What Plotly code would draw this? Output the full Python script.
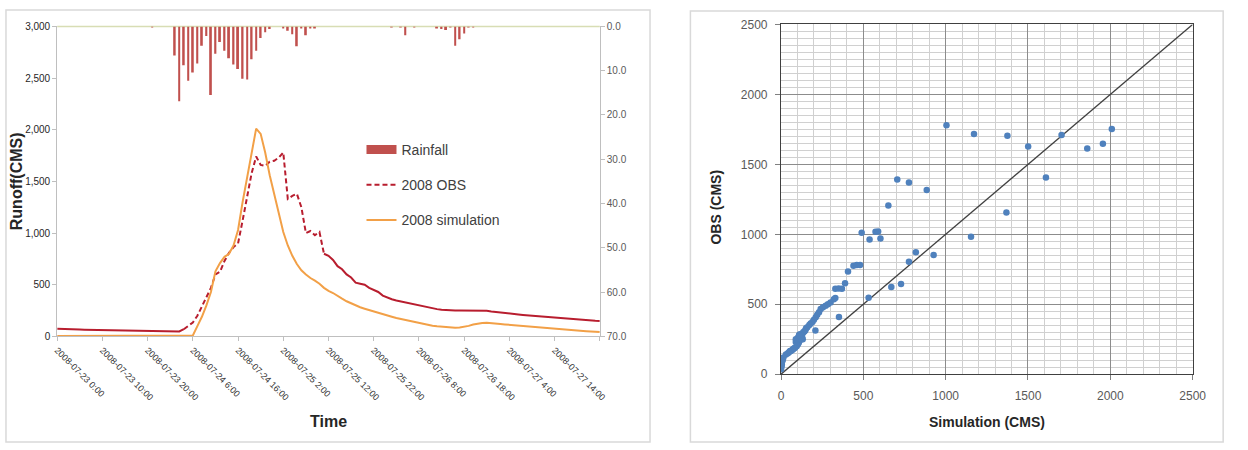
import plotly.graph_objects as go

# ---------------- data: hydrograph (hourly, hour 0 = 2008-07-23 0:00) ----------------
hours = list(range(121))
obs_cms = [75, 72, 70, 68, 67, 66, 65, 64, 63, 62,
           60, 60, 59, 58, 58, 57, 55, 54, 53, 52,
           51, 50, 49, 48, 47, 46, 45, 48, 70, 100,
           135, 200, 290, 370, 470, 600, 625, 730, 810, 865,
           900, 1120, 1370, 1580, 1740, 1660, 1650, 1690, 1700, 1730,
           1780, 1330, 1360, 1380, 1250, 1000, 1020, 980, 1010, 800,
           780, 740, 680, 650, 600, 570, 520, 510, 500, 470,
           450, 430, 395, 375, 360, 348, 338, 328, 318, 308,
           298, 290, 280, 270, 264, 258, 254, 250, 250, 250,
           250, 250, 250, 250, 250, 248, 242, 236, 230, 225,
           220, 216, 212, 208, 204, 200, 196, 192, 188, 184,
           180, 177, 173, 170, 166, 163, 160, 157, 154, 151, 150]
sim_cms = [3, 3, 3, 3, 3, 3, 3, 3, 3, 3,
           3, 3, 3, 3, 3, 3, 3, 3, 3, 3,
           3, 3, 3, 3, 3, 3, 3, 3, 3, 3,
           10, 100, 190, 300, 430, 630, 710, 770, 800, 880,
           1030, 1300, 1530, 1790, 2010, 1960, 1780, 1560, 1380, 1170,
           1010, 880, 780, 700, 640, 600, 565, 540, 510, 470,
           440, 420, 390, 365, 340, 318, 300, 282, 268, 254,
           240, 225, 212, 200, 190, 178, 168, 158, 148, 138,
           128, 120, 112, 104, 98, 93, 89, 86, 84, 86,
           92, 102, 115, 125, 130, 132, 130, 126, 120, 116,
           112, 108, 104, 100, 96, 92, 88, 85, 82, 78,
           75, 72, 69, 66, 62, 58, 55, 51, 48, 45, 42]

rain_hours = [21, 26, 27, 28, 29, 30, 31, 32, 33, 34, 35, 36, 37, 38, 39, 40, 41, 42,
              43, 44, 45, 46, 47, 50, 51, 52, 53, 54, 55, 56, 57, 74, 76, 77, 79,
              84, 85, 86, 87, 88, 89, 90, 91, 92]
rain_mm = [0.2, 6.6, 16.9, 8.8, 12.3, 10.4, 8.4, 4.4, 2.2, 15.5, 6.2, 3.5, 5.5, 7.2,
           8.6, 9.6, 11.8, 12.0, 7.4, 5.5, 2.6, 1.3, 0.6, 0.3, 1.0, 1.8, 4.5, 0.4,
           2.0, 0.3, 0.3, 0.2, 0.2, 2.0, 0.2, 0.4, 0.6, 0.8, 0.2, 4.4, 2.9, 1.6, 0.2, 0.2]

time_tick_hours = [0, 10, 20, 30, 40, 50, 60, 70, 80, 90, 100, 110, 120]
time_tick_labels = ["2008-07-23 0:00", "2008-07-23 10:00", "2008-07-23 20:00",
                    "2008-07-24 6:00", "2008-07-24 16:00", "2008-07-25 2:00",
                    "2008-07-25 12:00", "2008-07-25 22:00", "2008-07-26 8:00",
                    "2008-07-26 18:00", "2008-07-27 4:00", "2008-07-27 14:00", ""]

# ---------------- data: scatter OBS vs simulation ----------------
scatter_sim = [0, 2, 3, 5, 2, 6, 10, 15, 30, 42, 50, 55, 60, 70, 72, 80, 85, 95, 102, 108,
               112, 118, 122, 90, 95, 100, 105, 110, 115, 130, 135, 142, 148, 152, 160, 172,
               180, 191, 200, 211, 220, 231, 241, 255, 271, 285, 301, 321, 330,
               90, 100, 115, 125, 132, 128, 120, 110,
               209, 352, 330, 350, 370, 389, 407, 440, 460, 480, 532,
               490, 538, 574, 590, 604, 670, 729, 777, 819, 927,
               652, 706, 777, 885, 1005, 1154, 1172, 1369, 1375, 1501, 1609,
               1704, 1860, 1955, 2009]
scatter_obs = [35, 50, 60, 70, 80, 90, 100, 120, 140, 150, 158, 165, 166, 175, 178, 185, 190, 200, 212, 225,
               240, 250, 262, 230, 245, 255, 265, 275, 285, 290, 300, 305, 315, 328, 335, 351,
               362, 374, 390, 408, 425, 443, 466, 478, 489, 500, 512, 535, 545,
               250, 250, 250, 250, 250, 265, 270, 280,
               312, 409, 610, 612, 610, 651, 734, 776, 780, 780, 547,
               1011, 963, 1018, 1020, 970, 623, 644, 803, 872, 852,
               1205, 1392, 1371, 1316, 1780, 983, 1717, 1156, 1704, 1627, 1406,
               1710, 1614, 1648, 1752]
line_1to1 = [0, 2500]

W, H = 1248, 450
def px(x):
    return x / W
def py(y):
    return 1 - y / H

OBS_COLOR = "#B81D2E"
SIM_COLOR = "#F2A047"
RAIN_COLOR = "#C0504D"

fig = go.Figure()

# rainfall bars (reversed secondary axis)
fig.add_trace(go.Bar(x=rain_hours, y=rain_mm, yaxis="y3", xaxis="x", width=0.4,
                     marker=dict(color=RAIN_COLOR, line=dict(width=0)),
                     name="Rainfall", legendgroup="g1", showlegend=False))
# legend swatch for the rainfall (wide bar like the original legend)
fig.add_trace(go.Scatter(x=[None], y=[None], mode="lines", name="Rainfall",
                         line=dict(color=RAIN_COLOR, width=9),
                         legendgroup="g1", legendrank=1))

# observed: solid baseline, dashed event, solid recession
fig.add_trace(go.Scatter(x=hours[0:29], y=obs_cms[0:29], mode="lines",
                         line=dict(color=OBS_COLOR, width=2), showlegend=False,
                         legendgroup="g2", hoverinfo="skip"))
fig.add_trace(go.Scatter(x=hours[28:60], y=obs_cms[28:60], mode="lines",
                         line=dict(color=OBS_COLOR, width=2, dash="5px,3px"),
                         name="2008 OBS", legendgroup="g2", legendrank=2))
fig.add_trace(go.Scatter(x=hours[59:], y=obs_cms[59:], mode="lines",
                         line=dict(color=OBS_COLOR, width=2), showlegend=False,
                         legendgroup="g2", hoverinfo="skip"))
fig.add_trace(go.Scatter(x=hours, y=sim_cms, mode="lines",
                         line=dict(color=SIM_COLOR, width=2),
                         name="2008 simulation", legendgroup="g3", legendrank=3))

# scatter panel
fig.add_trace(go.Scatter(x=line_1to1, y=line_1to1, mode="lines", xaxis="x2", yaxis="y2",
                         line=dict(color="#404040", width=1.3), showlegend=False))
fig.add_trace(go.Scatter(x=scatter_sim, y=scatter_obs, mode="markers", xaxis="x2", yaxis="y2",
                         marker=dict(color="#4F81BD", size=6.5), showlegend=False))

FONT = "Liberation Sans, Arial, sans-serif"
light_axis = "#BFBFBF"

fig.update_layout(
    width=W, height=H,
    margin=dict(l=0, r=0, t=0, b=0),
    paper_bgcolor="white", plot_bgcolor="white",
    font=dict(family=FONT, color="#333333"),
    barmode="overlay",
    xaxis=dict(domain=[px(53), px(604)], range=[0, 120], tickmode="array",
               tickvals=time_tick_hours, ticktext=time_tick_labels, tickangle=45,
               ticks="outside", ticklen=4, tickcolor=light_axis,
               showline=True, linecolor=light_axis, linewidth=1,
               showgrid=False, zeroline=False,
               tickfont=dict(size=9, color="#333333"), anchor="y"),
    yaxis=dict(domain=[py(340), py(20)], range=[0, 3000], dtick=500, tickformat=",",
               ticks="outside", ticklen=4, tickcolor=light_axis,
               showline=True, linecolor=light_axis, showgrid=False, zeroline=False,
               tickfont=dict(size=10, color="#262626"), anchor="x"),
    yaxis3=dict(overlaying="y", side="right", anchor="x", range=[70, 0], dtick=10,
                tickformat=".1f", ticks="outside", ticklen=4, tickcolor=light_axis,
                showline=True, linecolor=light_axis, showgrid=False, zeroline=False,
                tickfont=dict(size=10, color="#595959")),
    xaxis2=dict(domain=[px(788), px(1206)], range=[0, 2500], dtick=500, anchor="y2",
                showgrid=True, gridcolor="#8C8C8C", gridwidth=1,
                minor=dict(dtick=100, showgrid=True, gridcolor="#D0D0D0", gridwidth=1),
                showline=True, linecolor="#404040", linewidth=1.2, mirror=True,
                ticks="outside", ticklen=5, tickcolor="#808080", zeroline=False,
                tickfont=dict(size=12, color="#595959"), ticklabelstandoff=5),
    yaxis2=dict(domain=[py(379), py(18)], range=[0, 2500], dtick=500, anchor="x2",
                showgrid=True, gridcolor="#8C8C8C", gridwidth=1,
                minor=dict(dtick=50, showgrid=True, gridcolor="#D0D0D0", gridwidth=1),
                showline=True, linecolor="#404040", linewidth=1.2, mirror=True,
                ticks="outside", ticklen=5, tickcolor="#808080", zeroline=False,
                tickfont=dict(size=12, color="#595959"), ticklabelstandoff=5),
    legend=dict(x=px(362), y=py(131), xanchor="left", yanchor="top",
                bgcolor="rgba(0,0,0,0)", font=dict(size=14, color="#404040"),
                traceorder="grouped", tracegroupgap=14, itemwidth=30),
    showlegend=True,
)

annotations = [
    dict(text="<b>Runoff(CMS)</b>", x=px(12), y=py(180), textangle=-90,
         font=dict(size=16, color="#262626")),
    dict(text="<b>Time</b>", x=px(328), y=py(428), font=dict(size=16, color="#262626")),
    dict(text="<b>OBS (CMS)</b>", x=px(722), y=py(207), textangle=-90,
         font=dict(size=14, color="#262626")),
    dict(text="<b>Simulation (CMS)</b>", x=px(997), y=py(428),
         font=dict(size=14, color="#262626")),
]
for a in annotations:
    a.update(xref="paper", yref="paper", showarrow=False, xanchor="center", yanchor="middle")
fig.update_layout(annotations=annotations)

shapes = [
    # left panel frame
    dict(type="rect", x0=px(1), x1=px(655), y0=py(449), y1=py(3),
         line=dict(color="#D9D9D9", width=1.5)),
    # right panel frame
    dict(type="rect", x0=px(696), x1=px(1237), y0=py(449), y1=py(4),
         line=dict(color="#D9D9D9", width=1.5)),
    # pale top line of hydrograph plot
    dict(type="line", x0=px(53), x1=px(604), y0=py(20), y1=py(20),
         line=dict(color="#D8DDB4", width=1.5)),
]
for s in shapes:
    s.update(xref="paper", yref="paper", layer="below")
fig.update_layout(shapes=shapes)

fig.write_html("out.html")
